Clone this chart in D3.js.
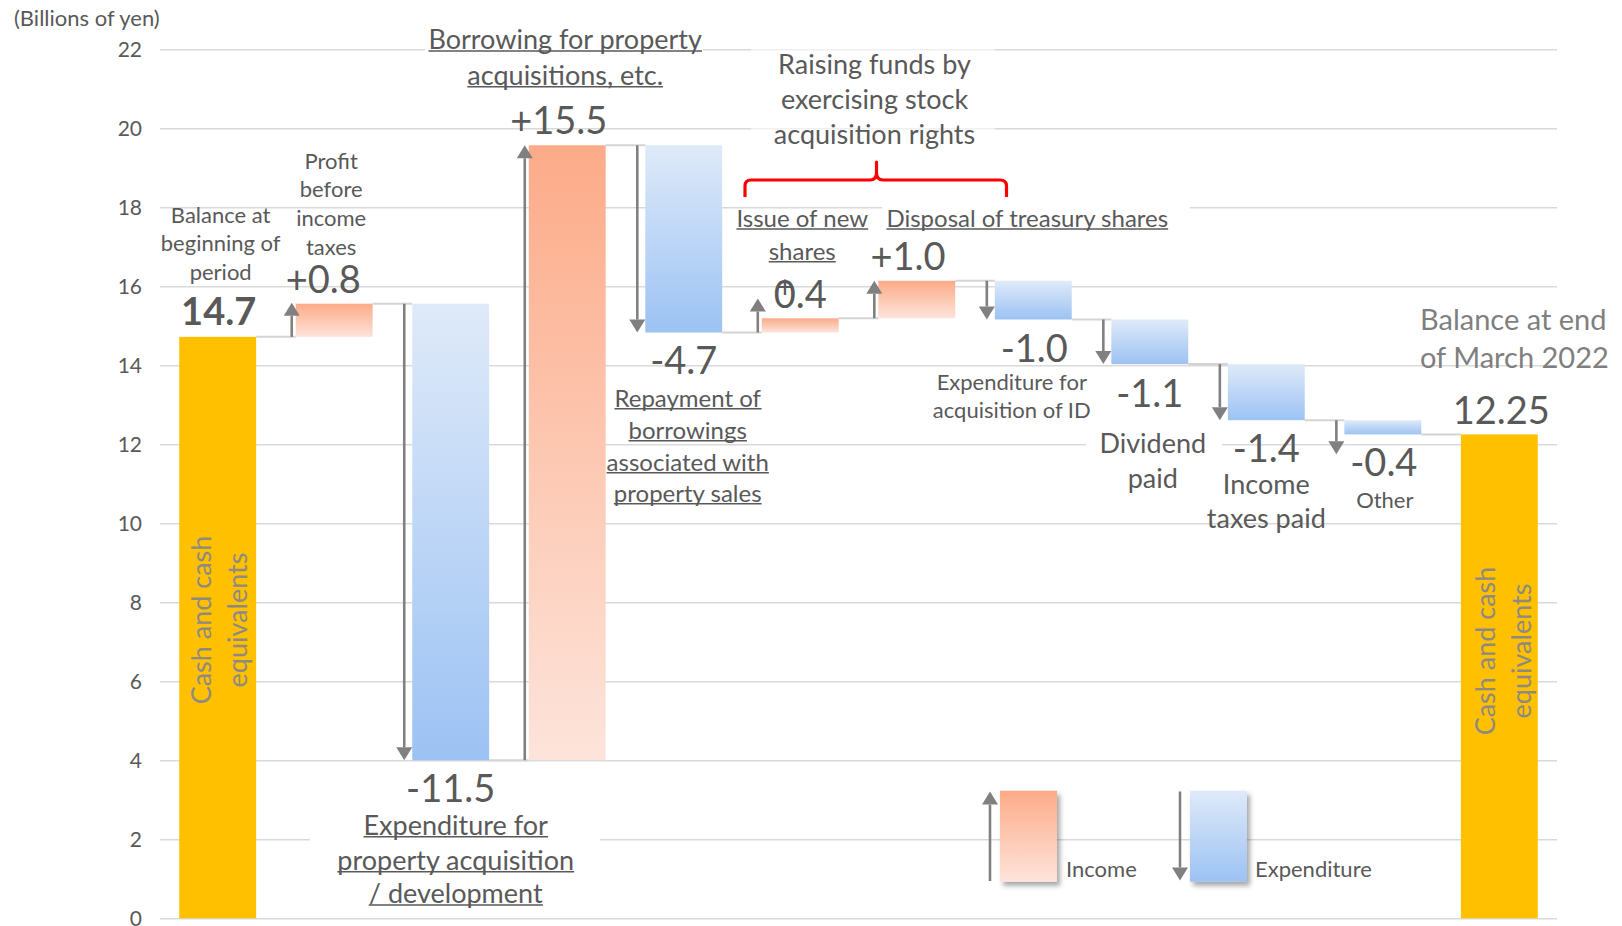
<!DOCTYPE html>
<html>
<head>
<meta charset="utf-8">
<script src="https://cdn.jsdelivr.net/npm/d3@7"></script>
<style>
  html, body { margin: 0; padding: 0; background: #fff; }
  svg { display: block; font-family: Lato, 'Open Sans', sans-serif; }
</style>
</head>
<body>
<div id="chart"></div>
<script>
// values (billions of yen)
const categories = [
  'Balance at beginning of period', 'Profit before income taxes',
  'Expenditure for property acquisition / development', 'Borrowing for property acquisitions, etc.',
  'Repayment of borrowings associated with property sales', 'Issue of new shares',
  'Disposal of treasury shares', 'Expenditure for acquisition of ID', 'Dividend paid',
  'Income taxes paid', 'Other', 'Balance at end of March 2022'
]
const startBalance = 14.72
const changes = [0.84, -11.56, 15.57, -4.74, 0.36, 0.95, -0.98, -1.13, -1.42, -0.36]
const endBalance = 12.25
const valueLabels = ['14.7', '+0.8', '-11.5', '+15.5', '-4.7', '+0.4', '+1.0', '-1.0', '-1.1', '-1.4', '-0.4', '12.25']
const yTicks = [0, 2, 4, 6, 8, 10, 12, 14, 16, 18, 20, 22]

const width = 1622
const height = 926
const plot = { left: 160, right: 1557, top: 49.3, bottom: 918.3 }
const textColor = '#595959'

const svg = d3.select('#chart')
  .append('svg')
  .attr('width', width)
  .attr('height', height)

const x = d3.scaleBand()
  .domain(categories)
  .range([plot.left, plot.right])
  .paddingInner(0.34)
  .paddingOuter(0.165)

const y = d3.scaleLinear()
  .domain([0, 22])
  .range([plot.bottom, plot.top])

const bw = x.bandwidth()
const cx = i => x(categories[i]) + bw / 2

// gradients + shadow
const defs = svg.append('defs')
const grad = (id, top, bottom) => {
  const g = defs.append('linearGradient').attr('id', id)
    .attr('x1', 0).attr('y1', 0).attr('x2', 0).attr('y2', 1)
  g.append('stop').attr('offset', '0%').attr('stop-color', top)
  g.append('stop').attr('offset', '100%').attr('stop-color', bottom)
}
grad('income', '#fcab88', '#fde4db')
grad('expense', '#dfeaf9', '#9cc2f3')
defs.append('filter').attr('id', 'shadow')
  .attr('x', '-20%').attr('y', '-20%').attr('width', '150%').attr('height', '150%')
  .append('feDropShadow')
    .attr('dx', 3).attr('dy', 4).attr('stdDeviation', 2.5)
    .attr('flood-color', '#000').attr('flood-opacity', 0.35)

const fills = { total: '#ffc000', income: 'url(#income)', expense: 'url(#expense)' }

// y axis + gridlines
svg.append('g')
  .attr('transform', `translate(${plot.left},0)`)
  .call(d3.axisLeft(y).tickValues(yTicks).tickSize(-(plot.right - plot.left)).tickPadding(18))
  .call(g => g.select('.domain').remove())
  .call(g => g.selectAll('.tick line').attr('stroke', '#d9d9d9').attr('stroke-width', 1.6))
  .call(g => g.selectAll('.tick text')
    .attr('fill', textColor)
    .attr('font-size', 21)
    .attr('font-family', 'Lato, sans-serif'))

svg.append('text')
  .attr('x', 14)
  .attr('y', 18)
  .attr('dy', '0.36em')
  .attr('fill', textColor)
  .attr('font-size', 22)
  .text('(Billions of yen)')

// white text boxes that hide parts of the grid
const boxes = [
  { x0: 425, x1: 703, y0: 20, y1: 95, o: 1 },
  { x0: 751, x1: 995, y0: 40, y1: 150, o: 0.6 },
  { x0: 882, x1: 1190, y0: 200, y1: 236, o: 1 },
  { x0: 310, x1: 600, y0: 805, y1: 912, o: 1 },
  { x0: 1086, x1: 1222, y0: 425, y1: 495, o: 1 }
]
svg.append('g').selectAll('rect')
  .data(boxes)
  .join('rect')
    .attr('x', d => d.x0).attr('y', d => d.y0)
    .attr('width', d => d.x1 - d.x0).attr('height', d => d.y1 - d.y0)
    .attr('fill', '#fff').attr('fill-opacity', d => d.o)

// waterfall steps
const steps = [{ cat: categories[0], from: 0, to: startBalance, kind: 'total' }]
let running = startBalance
changes.forEach((d, i) => {
  steps.push({ cat: categories[i + 1], from: running, to: running + d, kind: d >= 0 ? 'income' : 'expense' })
  running += d
})
steps.push({ cat: categories[categories.length - 1], from: 0, to: endBalance, kind: 'total' })

// connectors
svg.append('g').selectAll('line')
  .data(steps.slice(0, -1))
  .join('line')
    .attr('x1', d => x(d.cat) + bw)
    .attr('x2', (d, i) => x(steps[i + 1].cat))
    .attr('y1', d => y(d.to))
    .attr('y2', d => y(d.to))
    .attr('stroke', '#d4d4d4')
    .attr('stroke-width', 2)

svg.append('g').selectAll('rect')
  .data(steps)
  .join('rect')
    .attr('x', d => x(d.cat))
    .attr('width', bw)
    .attr('y', d => y(Math.max(d.from, d.to)))
    .attr('height', d => Math.abs(y(d.from) - y(d.to)))
    .attr('fill', d => fills[d.kind])

// arrows
const arrowColor = '#808080'
function arrow (g, ax, base, tip) {
  const dir = tip > base ? 1 : -1
  const head = 13
  g.append('line')
    .attr('x1', ax).attr('x2', ax)
    .attr('y1', base).attr('y2', tip - dir * head)
    .attr('stroke', arrowColor).attr('stroke-width', 2.6)
  g.append('path')
    .attr('d', `M${ax - 8},${tip - dir * head} L${ax + 8},${tip - dir * head} L${ax},${tip} Z`)
    .attr('fill', arrowColor)
}
const arrows = svg.append('g')
steps.filter(d => d.kind !== 'total').forEach(d => {
  const up = d.kind === 'income'
  const base = y(d.from)
  let tip = y(d.to)
  if (Math.abs(tip - base) < 34) tip = base + (up ? -34 : 34)
  arrow(arrows, x(d.cat) + (up ? -4 : -8), base, tip)
})

// value labels
const valuePos = [
  { dx: 1, y: 311.7, bold: true }, { dx: -11, y: 279.3 }, { dx: 0, y: 788.3 }, { dx: -8.5, y: 120.7 },
  { dx: 0, y: 360 }, { dx: 0, y: 294 }, { dx: -8.7, y: 256 }, { dx: 1, y: 348 },
  { dx: 0, y: 393 }, { dx: 0, y: 448 }, { dx: 1, y: 462 }, { dx: 2, y: 410.7 }
]
const valueSize = 38
const labels = svg.append('g').attr('fill', textColor)
valueLabels.forEach((t, i) => {
  const p = valuePos[i]
  const el = labels.append('text')
    .attr('x', cx(i) + p.dx)
    .attr('y', p.y + valueSize * 0.36)
    .attr('text-anchor', 'middle')
    .attr('font-size', valueSize)
    .attr('font-weight', p.bold ? 700 : 400)
  if (t === '+0.4') {
    // the plus sign sits on top of the zero in the original
    el.append('tspan').attr('dy', -10).attr('font-size', 30).text('+')
    el.append('tspan').attr('dy', 10).attr('dx', -20).text('0.4')
  } else {
    el.text(t)
  }
})

// category annotations
const notes = [
  { lines: ['Balance at', 'beginning of', 'period'], band: 0, dx: 3, ys: [215, 243, 272], size: 22 },
  { lines: ['Profit', 'before', 'income', 'taxes'], band: 1, dx: -3, ys: [161, 189.3, 218.3, 246.7], size: 22 },
  { lines: ['Expenditure for', 'property acquisition', '/ development'], band: 2, dx: 5, ys: [825, 860, 893.3], size: 27, u: true },
  { lines: ['Borrowing for property', 'acquisitions, etc.'], band: 3, dx: -2, ys: [39.3, 75], size: 27, u: true },
  { lines: ['Repayment of', 'borrowings', 'associated with', 'property sales'], band: 4, dx: 4, ys: [398, 430, 462, 493], size: 24, u: true },
  { lines: ['Raising funds by', 'exercising stock', 'acquisition rights'], band: 5.5, dx: 16, ys: [64, 99.3, 134.5], size: 27 },
  { lines: ['Issue of new', 'shares'], band: 5, dx: 2, ys: [218.3, 251], size: 24, u: true },
  { lines: ['Disposal of treasury shares'], band: 7, dx: -6, ys: [218.3], size: 24, u: true },
  { lines: ['Expenditure for', 'acquisition of ID'], band: 7, dx: -21.5, ys: [381.7, 410], size: 22 },
  { lines: ['Dividend', 'paid'], band: 8, dx: 3, ys: [443, 478], size: 27 },
  { lines: ['Income', 'taxes paid'], band: 9, dx: 0, ys: [484, 518], size: 27 },
  { lines: ['Other'], band: 10, dx: 2, ys: [500], size: 22 }
]
const bandCenter = b => Number.isInteger(b) ? cx(b) : (cx(Math.floor(b)) + cx(Math.ceil(b))) / 2

notes.forEach(n => {
  n.lines.forEach((line, j) => {
    const t = labels.append('text')
      .attr('x', bandCenter(n.band) + n.dx)
      .attr('y', n.ys[j])
      .attr('dy', '0.36em')
      .attr('text-anchor', 'middle')
      .attr('font-size', n.size)
      .text(line)
    if (n.u) {
      const b = t.node().getBBox()
      const uy = n.ys[j] + n.size * 0.36 + 2
      labels.append('line')
        .attr('x1', b.x).attr('x2', b.x + b.width)
        .attr('y1', uy).attr('y2', uy)
        .attr('stroke', textColor).attr('stroke-width', 1.5)
    }
  })
})

// end balance title
labels.selectAll('text.end')
  .data(['Balance at end', 'of March 2022'])
  .join('text')
    .classed('end', true)
    .attr('x', 1420)
    .attr('y', (d, i) => [320, 358][i])
    .attr('dy', '0.36em')
    .attr('font-size', 29)
    .attr('fill', '#7f7f7f')
    .text(d => d)

// red brace
svg.append('path')
  .attr('d', 'M745,197 L745,186 Q745,180 751,180 L870,180 Q876.5,180 876.5,173 L876.5,162 L876.5,173 Q876.5,180 883,180 L1000,180 Q1006.5,180 1006.5,186 L1006.5,197')
  .attr('fill', 'none')
  .attr('stroke', '#ff0000')
  .attr('stroke-width', 3.2)
  .attr('stroke-linejoin', 'round')

// rotated text inside the balance bars
const cashText = [
  { band: 0, dx: [-16, 20], cy: 620 },
  { band: 11, dx: [-14, 22], cy: 651 }
]
cashText.forEach(c => {
  ;['Cash and cash', 'equivalents'].forEach((line, j) => {
    const tx = cx(c.band) + c.dx[j]
    svg.append('text')
      .attr('transform', `translate(${tx},${c.cy}) rotate(-90)`)
      .attr('dy', '0.36em')
      .attr('text-anchor', 'middle')
      .attr('font-size', 27)
      .attr('fill', '#8f8a80')
      .text(line)
  })
})

// legend
const legend = svg.append('g')
const legendItems = [
  { kind: 'income', label: 'Income', x0: 1000, ax: 990, tx: 1066 },
  { kind: 'expense', label: 'Expenditure', x0: 1190, ax: 1180, tx: 1255 }
]
legendItems.forEach(d => {
  legend.append('rect')
    .attr('x', d.x0).attr('y', 790.7)
    .attr('width', 57).attr('height', 91)
    .attr('fill', fills[d.kind])
    .attr('filter', 'url(#shadow)')
  if (d.kind === 'income') arrow(legend, d.ax, 881, 791.5)
  else arrow(legend, d.ax, 791.5, 880.5)
  legend.append('text')
    .attr('x', d.tx).attr('y', 869.3)
    .attr('dy', '0.36em')
    .attr('font-size', 22)
    .attr('fill', textColor)
    .text(d.label)
})
</script>
</body>
</html>
